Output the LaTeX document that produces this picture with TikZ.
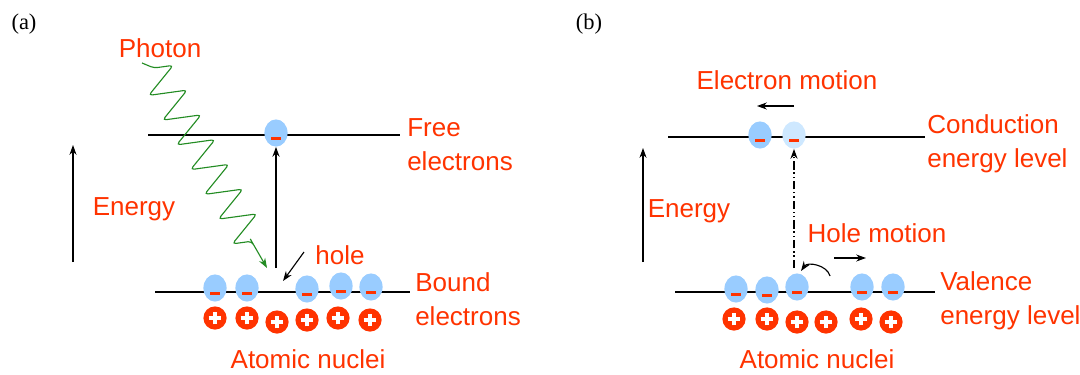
\documentclass[tikz,border=0pt]{standalone}
\usepackage{fontspec}
\setmainfont{Liberation Sans}
\newfontfamily\tagfont{Liberation Serif}
\usetikzlibrary{arrows.meta,shapes.geometric,decorations.pathmorphing}

\definecolor{txtred}{RGB}{255,51,0}
\definecolor{elblue}{RGB}{153,204,255}
\definecolor{elpale}{RGB}{206,232,255}
\definecolor{nucred}{RGB}{255,51,0}
\definecolor{phgreen}{RGB}{35,140,35}

\begin{document}
\begin{tikzpicture}[x=0.025cm, y=-0.025cm,
    every node/.style={font=\fontsize{18.5}{24}\selectfont, text=txtred, inner sep=0pt},
    elec/.style={ellipse, fill=elblue, minimum width=0.58cm, minimum height=0.68cm,
                path picture={\fill[txtred]
                  ([xshift=-0.12cm, yshift=-0.09cm]path picture bounding box.center) rectangle
                  ([xshift=0.12cm, yshift=-0.17cm]path picture bounding box.center);}},
    elecpale/.style={elec, fill=elpale},
    nucl/.style={circle, fill=nucred, minimum size=0.58cm,
                path picture={\draw[white, line width=2.6pt]
                  ([xshift=-0.16cm]path picture bounding box.center) --
                  ([xshift=0.16cm]path picture bounding box.center)
                  ([yshift=-0.16cm]path picture bounding box.center) --
                  ([yshift=0.16cm]path picture bounding box.center);}},
    lvl/.style={line width=1pt},
    arr/.style={-{Stealth[length=7pt, width=5pt]}, line width=0.8pt},
    photon/.style={phgreen, line width=0.8pt, rounded corners=2.5pt,
                -{Stealth[length=7pt, width=5pt]},
                decoration={zigzag, amplitude=0.45cm, segment length=0.71cm}},
    lbl/.style={align=left, anchor=west},
    tag/.style={font=\tagfont\fontsize{16}{18}\selectfont, text=black},
  ]
  \useasboundingbox (0,0) rectangle (1080,375);

  % === (a) bound / free electrons ===
  \node[tag] (taga) at (24,24) {(a)};

  \coordinate (fl1) at (148,135);
  \coordinate (fl2) at (400,135);
  \coordinate (bl1) at (155,292);
  \coordinate (bl2) at (410,292);
  \draw[lvl] (fl1) -- (fl2);
  \draw[lvl] (bl1) -- (bl2);

  \node[elec] (fe) at (276,133) {};
  \node[elec] (b1) at (215,288) {};
  \node[elec] (b2) at (247,288) {};
  \node[elec] (b3) at (307,289) {};
  \node[elec] (b4) at (341,286) {};
  \node[elec] (b5) at (371,287) {};

  \node[nucl] (n1) at (215,318) {};
  \node[nucl] (n2) at (247,318) {};
  \node[nucl] (n3) at (277,322) {};
  \node[nucl] (n4) at (307,320) {};
  \node[nucl] (n5) at (338,318) {};
  \node[nucl] (n6) at (370,320) {};

  \node (photon) at (160,48) {Photon};
  \node (energya) at (134,209) {Energy};
  \node (hole) at (340,255) {hole};
  \node[lbl] (free) at (407,145) {Free\\electrons};
  \node[lbl] (bound) at (415,299) {Bound\\electrons};
  \node (nuclei) at (308,359) {Atomic nuclei};

  \coordinate (ea1) at (73,262);
  \coordinate (ea2) at (73,145);
  \draw[arr] (ea1) -- (ea2);

  \coordinate (ha) at (276,268);
  \draw[arr] (ha) -- (fe.south);

  \coordinate (hp1) at (304,252);
  \coordinate (hp2) at (283,281);
  \draw[arr] (hp1) -- (hp2);

  \coordinate (ph1) at (142,63);
  \coordinate (ph2) at (154,68);
  \coordinate (ph3) at (252,242);
  \coordinate (ph4) at (267,268);
  \draw[photon] (ph1) -- (ph2) decorate {-- (ph3)} -- (ph4);

  % === (b) conduction / valence levels ===
  \node[tag] (tagb) at (589,24) {(b)};

  \coordinate (cl1) at (668,137);
  \coordinate (cl2) at (925,137);
  \coordinate (vl1) at (675,292);
  \coordinate (vl2) at (935,292);
  \draw[lvl] (cl1) -- (cl2);
  \draw[lvl] (vl1) -- (vl2);

  \node[elec]     (c1) at (760,135) {};
  \node[elecpale] (c2) at (794,135) {};
  \node[elec] (v1) at (736,289) {};
  \node[elec] (v2) at (767,290) {};
  \node[elec] (v3) at (797,287) {};
  \node[elec] (v4) at (862,287) {};
  \node[elec] (v5) at (893,287) {};

  \node[nucl] (m1) at (734,319) {};
  \node[nucl] (m2) at (767,319) {};
  \node[nucl] (m3) at (797,322) {};
  \node[nucl] (m4) at (826,322) {};
  \node[nucl] (m5) at (861,319) {};
  \node[nucl] (m6) at (891,322) {};

  \node (emotion) at (787,80) {Electron motion};
  \node (energyb) at (689,211) {Energy};
  \node (hmotion) at (877,233) {Hole motion};
  \node[lbl] (cond) at (927,144) {Conduction\\energy level};
  \node[lbl] (val) at (940,301) {Valence\\energy level};
  \node (nucleib) at (817,359) {Atomic nuclei};

  \coordinate (eb1) at (643,262);
  \coordinate (eb2) at (643,148);
  \draw[arr] (eb1) -- (eb2);

  \coordinate (em1) at (794,106);
  \coordinate (em2) at (757,106);
  \draw[arr] (em1) -- (em2);

  \coordinate (hb) at (794,268);
  \draw[arr, dash pattern=on 6pt off 2pt on 1pt off 2pt on 1pt off 2pt] (hb) -- (c2.south);

  \coordinate (hm1) at (830,276);
  \coordinate (hm2) at (801,271);
  \draw[arr] (hm1) to[out=105,in=55] (hm2);

  \coordinate (hr1) at (834,258);
  \coordinate (hr2) at (866,258);
  \draw[arr] (hr1) -- (hr2);

  \end{tikzpicture}
\end{document}
